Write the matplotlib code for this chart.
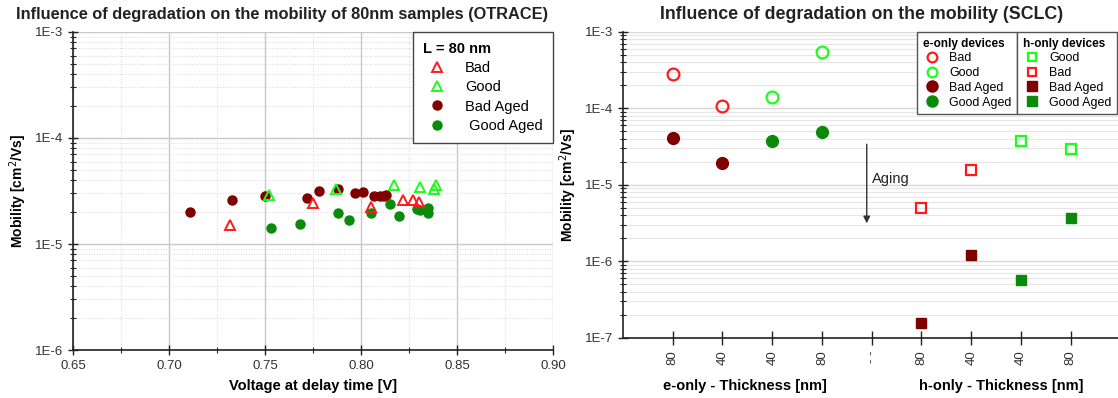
"""Mobility degradation: OTRACE scatter (left) and SCLC by thickness (right)."""

import matplotlib
matplotlib.use("Agg")
import matplotlib.pyplot as plt
import numpy as np
from matplotlib.ticker import LogLocator, FuncFormatter, MultipleLocator, NullFormatter
from matplotlib.lines import Line2D

plt.rcParams['font.family'] = ['Liberation Sans', 'DejaVu Sans']

RED = '#ff1a1a'
LIME = '#1aff1a'
DARKRED = '#800000'
GREEN = '#0a8a0a'

# ---- left panel: OTRACE, L = 80 nm ----
bad_v = [0.732, 0.775, 0.805, 0.822, 0.827, 0.830]
bad_mu = [1.51e-5, 2.43e-5, 2.23e-5, 2.58e-5, 2.58e-5, 2.48e-5]

good_v = [0.752, 0.787, 0.817, 0.831, 0.839, 0.838]
good_mu = [2.92e-5, 3.32e-5, 3.61e-5, 3.43e-5, 3.64e-5, 3.32e-5]

bad_aged_v = [0.711, 0.733, 0.750, 0.772, 0.778, 0.788, 0.797, 0.801,
              0.807, 0.810, 0.812, 0.813]
bad_aged_mu = [2.0e-5, 2.58e-5, 2.82e-5, 2.73e-5, 3.13e-5, 3.29e-5, 3.01e-5,
               3.08e-5, 2.81e-5, 2.85e-5, 2.85e-5, 2.91e-5]

good_aged_v = [0.753, 0.768, 0.788, 0.794, 0.805, 0.815, 0.820, 0.829,
               0.831, 0.835, 0.835]
good_aged_mu = [1.41e-5, 1.55e-5, 1.98e-5, 1.68e-5, 1.98e-5, 2.40e-5, 1.83e-5,
                2.16e-5, 2.11e-5, 2.18e-5, 1.97e-5]

# ---- right panel: SCLC ----
thickness_labels = ['80', '40', '40', '80', '- -', '80', '40', '40', '80']
e_bad_pos = [1, 2]
e_bad_mu = [2.78e-4, 1.07e-4]
e_good_pos = [3, 4]
e_good_mu = [1.43e-4, 5.46e-4]
e_bad_aged_mu = [4.11e-5, 1.93e-5]
e_good_aged_mu = [3.76e-5, 4.89e-5]

h_bad_pos = [6, 7]
h_bad_mu = [5.06e-6, 1.55e-5]
h_good_pos = [8, 9]
h_good_mu = [3.76e-5, 2.94e-5]
h_bad_aged_mu = [1.57e-7, 1.21e-6]
h_good_aged_mu = [5.71e-7, 3.67e-6]


def sci_label(v, _):
    return f"1E{int(round(np.log10(v)))}"


def style_log_y(ax, lo, hi):
    ax.set_yscale('log')
    ax.set_ylim(lo, hi)
    ax.yaxis.set_major_locator(LogLocator(base=10, numticks=10))
    ax.yaxis.set_minor_locator(LogLocator(base=10, subs=np.arange(2, 10), numticks=10))
    ax.yaxis.set_major_formatter(FuncFormatter(sci_label))
    ax.yaxis.set_minor_formatter(NullFormatter())
    ax.tick_params(axis='both', which='major', direction='inout', length=7,
                   width=1, labelsize=9.5, labelcolor='#333333', color='#222222')
    ax.tick_params(axis='both', which='minor', direction='inout', length=5,
                   width=0.8, color='#222222')
    for side in ('top', 'right'):
        ax.spines[side].set_visible(False)
    for side in ('left', 'bottom'):
        ax.spines[side].set_linewidth(1.2)
        ax.spines[side].set_color('#222222')
    ax.set_ylabel('Mobility [cm$^2$/Vs]', fontsize=10, fontweight='bold')


fig = plt.figure(figsize=(11.18, 3.98), dpi=100)

# left
ax1 = fig.add_axes([0.0653, 0.1206, 0.4293, 0.799])
style_log_y(ax1, 1e-6, 1e-3)
ax1.set_xlim(0.65, 0.90)
ax1.xaxis.set_major_locator(MultipleLocator(0.05))
ax1.xaxis.set_minor_locator(MultipleLocator(0.025))
ax1.xaxis.set_major_formatter(FuncFormatter(lambda v, _: f"{v:.2f}"))
ax1.grid(True, which='major', color='#c8c8c8', lw=1)
ax1.grid(True, which='minor', color='#d8d8d8', lw=0.7, ls=':')
ax1.set_axisbelow(True)
ax1.yaxis.labelpad = 4

ms_circ = 6.5
ms_tri = 7
ax1.plot(bad_aged_v, bad_aged_mu, 'o', color=DARKRED, ms=ms_circ, ls='none')
ax1.plot(good_aged_v, good_aged_mu, 'o', color=GREEN, ms=ms_circ, ls='none')
ax1.plot(bad_v, bad_mu, '^', mfc='none', mec=RED, mew=1.4, ms=ms_tri, ls='none')
ax1.plot(good_v, good_mu, '^', mfc='none', mec=LIME, mew=1.4, ms=ms_tri, ls='none')

ax1.set_xlabel('Voltage at delay time [V]', fontsize=10.5, fontweight='bold', labelpad=5)

h1 = [Line2D([], [], marker='^', mfc='none', mec=RED, mew=1.4, ms=ms_tri, ls='none'),
      Line2D([], [], marker='^', mfc='none', mec=LIME, mew=1.4, ms=ms_tri, ls='none'),
      Line2D([], [], marker='o', color=DARKRED, ms=ms_circ, ls='none'),
      Line2D([], [], marker='o', color=GREEN, ms=ms_circ, ls='none')]
leg1 = ax1.legend(h1, ['Bad', 'Good', 'Bad Aged', ' Good Aged'], title='L = 80 nm',
                  loc='upper right', bbox_to_anchor=(1.0, 1.0), borderaxespad=0,
                  fontsize=10.5, title_fontproperties={'weight': 'bold', 'size': 10.5},
                  fancybox=False, edgecolor='#444444', framealpha=1,
                  handletextpad=0.9, labelspacing=0.35, borderpad=0.7)
leg1._legend_box.align = 'left'
leg1.get_frame().set_linewidth(1)

fig.text(0.252, 0.963, 'Influence of degradation on the mobility of 80nm samples (OTRACE)',
         ha='center', va='center', fontsize=11.8, fontweight='bold', color='#222222')

# right
ax2 = fig.add_axes([0.5572, 0.1508, 0.4428, 0.769])
style_log_y(ax2, 1e-7, 1e-3)
ax2.set_xlim(0, 9.95)
ax2.set_xticks(range(1, 10))
ax2.set_xticklabels(thickness_labels, rotation=90)
ax2.tick_params(axis='x', which='major', length=10, pad=4)
ax2.tick_params(axis='x', which='minor', bottom=False)
ax2.grid(True, axis='y', which='major', color='#d8d8d8', lw=1)
ax2.grid(True, axis='y', which='minor', color='#e6e6e6', lw=0.8)
ax2.set_axisbelow(True)
ax2.yaxis.labelpad = 4

ms_big = 8.5
ms_sq = 6.5
ax2.plot(e_bad_pos, e_bad_mu, 'o', mfc='none', mec=RED, mew=1.6, ms=ms_big, ls='none')
ax2.plot(e_good_pos, e_good_mu, 'o', mfc='none', mec=LIME, mew=1.6, ms=ms_big, ls='none')
ax2.plot(e_bad_pos, e_bad_aged_mu, 'o', color=DARKRED, ms=ms_big, ls='none')
ax2.plot(e_good_pos, e_good_aged_mu, 'o', color=GREEN, ms=ms_big, ls='none')
ax2.plot(h_bad_pos, h_bad_mu, 's', mfc='none', mec=RED, mew=1.6, ms=ms_sq, ls='none')
ax2.plot(h_good_pos, h_good_mu, 's', mfc='none', mec=LIME, mew=1.6, ms=ms_sq, ls='none')
ax2.plot(h_bad_pos, h_bad_aged_mu, 's', color=DARKRED, ms=ms_sq, ls='none')
ax2.plot(h_good_pos, h_good_aged_mu, 's', color=GREEN, ms=ms_sq, ls='none')

ax2.annotate('', xy=(4.9, 2.9e-6), xytext=(4.9, 3.7e-5),
             arrowprops=dict(arrowstyle='-|>', color='#333333', lw=1, mutation_scale=10))
ax2.text(5.0, 1.2e-5, 'Aging', fontsize=10.5, va='center', ha='left', color='#222222')

xt = ax2.get_xaxis_transform()
ax2.text(2.45, -0.135, 'e-only - Thickness [nm]', transform=xt, ha='center', va='top',
         fontsize=10.5, fontweight='bold')
ax2.text(7.6, -0.135, 'h-only - Thickness [nm]', transform=xt, ha='center', va='top',
         fontsize=10.5, fontweight='bold')

he = [Line2D([], [], marker='o', mfc='none', mec=RED, mew=1.6, ms=7, ls='none'),
      Line2D([], [], marker='o', mfc='none', mec=LIME, mew=1.6, ms=7, ls='none'),
      Line2D([], [], marker='o', color=DARKRED, ms=8, ls='none'),
      Line2D([], [], marker='o', color=GREEN, ms=8, ls='none')]
leg_e = ax2.legend(he, ['Bad', 'Good', 'Bad Aged', 'Good Aged'], title='e-only devices',
                   loc='upper right', bbox_to_anchor=(0.796, 1.0), borderaxespad=0,
                   fontsize=9, title_fontproperties={'weight': 'bold', 'size': 8.5},
                   fancybox=False, edgecolor='#555555', framealpha=1,
                   handletextpad=0.6, labelspacing=0.22, borderpad=0.45, handlelength=1.5)
leg_e._legend_box.align = 'left'
ax2.add_artist(leg_e)

hh = [Line2D([], [], marker='s', mfc='none', mec=LIME, mew=1.6, ms=6, ls='none'),
      Line2D([], [], marker='s', mfc='none', mec=RED, mew=1.6, ms=6, ls='none'),
      Line2D([], [], marker='s', color=DARKRED, ms=7, ls='none'),
      Line2D([], [], marker='s', color=GREEN, ms=7, ls='none')]
leg_h = ax2.legend(hh, ['Good', 'Bad', 'Bad Aged', 'Good Aged'], title='h-only devices',
                   loc='upper left', bbox_to_anchor=(0.796, 1.0), borderaxespad=0,
                   fontsize=9, title_fontproperties={'weight': 'bold', 'size': 8.5},
                   fancybox=False, edgecolor='#555555', framealpha=1,
                   handletextpad=0.6, labelspacing=0.22, borderpad=0.45, handlelength=1.5)
leg_h._legend_box.align = 'left'

fig.text(0.771, 0.963, 'Influence of degradation on the mobility (SCLC)',
         ha='center', va='center', fontsize=12.8, fontweight='bold', color='#222222')

fig.savefig('out.png', dpi=100)
